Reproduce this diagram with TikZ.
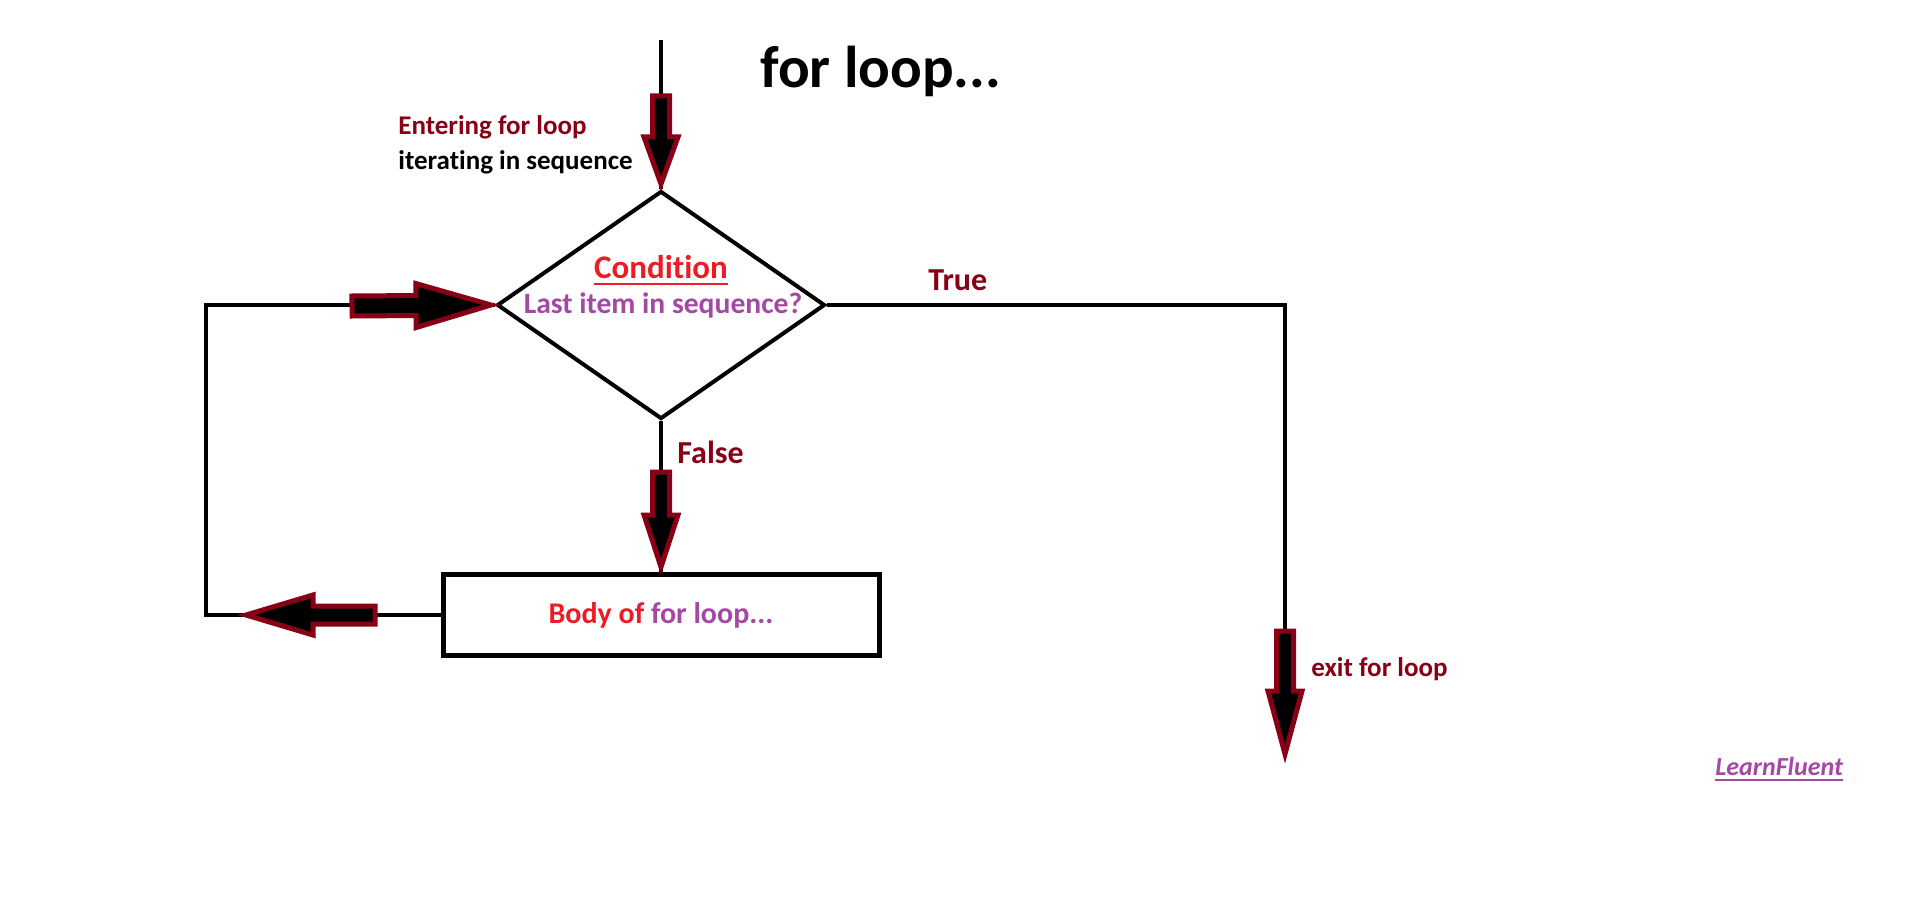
\documentclass[tikz,border=0pt]{standalone}
\usepackage{fontspec}
\setmainfont{Carlito}[Ligatures=NoCommon]
\usepackage{tikz}
\usetikzlibrary{shapes,arrows,positioning,calc}

\definecolor{darkred}{RGB}{136,0,21}
\definecolor{paintred}{RGB}{237,28,36}
\definecolor{paintpurple}{RGB}{163,73,164}

% fat arrow: tail, tip, head length, shaft half width, head half width
\newcommand{\blockarrow}[5]{%
  \coordinate (ba-tail) at (#1);
  \coordinate (ba-tip) at (#2);
  \coordinate (ba-base) at ($(ba-tip)!#3!(ba-tail)$);
  \draw[fatarrow] ($(ba-tail)!#4!90:(ba-tip)$) -- ($(ba-base)!#4!90:(ba-tip)$)
    -- ($(ba-base)!#5!90:(ba-tip)$) -- (ba-tip)
    -- ($(ba-base)!#5!-90:(ba-tip)$) -- ($(ba-base)!#4!-90:(ba-tip)$)
    -- ($(ba-tail)!#4!-90:(ba-tip)$) -- cycle;
}

\tikzset{
  flowline/.style={line width=2.2pt, black},
  fatarrow/.style={draw=darkred, fill=black, line width=2.5pt},
  txt/.style={inner sep=0pt, anchor=base west, font=\bfseries\fontsize{13.5}{16}\selectfont},
  bigtxt/.style={inner sep=0pt, anchor=base, font=\bfseries\fontsize{16}{19}\selectfont},
  uline/.style={line width=1pt},
}

\begin{document}
\begin{tikzpicture}[x=0.5pt, y=-0.5pt]
    \useasboundingbox (0,0) rectangle (1914,903);

    % Blocks
    \node[draw, diamond, line width=2pt, minimum width=164pt, minimum height=114pt, inner sep=0pt] (cond) at (661,305) {};
    \node[draw, line width=2.5pt, minimum width=218pt, minimum height=40.5pt,
          font=\bfseries\fontsize{15}{18}\selectfont] (body) at (661,615)
          {\color{paintred}Body of \color{paintpurple}for loop...};

    % Texts
    \node[txt, font=\bfseries\fontsize{29.5}{34}\selectfont] (title) at (760,88) {for loop...};
    \node[txt, text=darkred] (enter) at (398,135) {Entering for loop};
    \node[txt] (iter) at (398,170) {iterating in sequence};
    \node[bigtxt, text=paintred, font=\bfseries\fontsize{16.5}{19}\selectfont] (condtitle) at (661,279) {Condition};
    \node[bigtxt, text=paintpurple, font=\bfseries\fontsize{14.8}{18}\selectfont] (condq) at (663,314) {Last item in sequence?};
    \node[txt, text=darkred, font=\bfseries\fontsize{16}{19}\selectfont] (truelbl) at (928,291) {True};
    \node[txt, text=darkred, font=\bfseries\fontsize{16}{19}\selectfont] (falselbl) at (677,463) {False};
    \node[txt, text=darkred] (exitlbl) at (1311,676) {exit for loop};
    \node[txt, text=paintpurple, font=\bfseries\itshape\fontsize{13}{16}\selectfont] (brand) at (1715,775) {LearnFluent};
    % underlines
    \draw[uline, paintred] ([yshift=-2.5pt]condtitle.base west) -- ([yshift=-2.5pt]condtitle.base east);
    \draw[uline, paintpurple] ([yshift=-2.5pt]brand.base west) -- ([yshift=-2.5pt]brand.base east);

    % Free ends
    \coordinate (start) at (661,40);
    \coordinate (loopx) at (206,0);
    \coordinate (exit) at (1285,754);

    % Connectors
    \draw[flowline] (start) -- (cond.north);
    \draw[flowline] (cond.south) -- (body.north);
    \draw[flowline] (body.west) -- (body.west -| loopx) |- (cond.west);
    \draw[flowline] (cond.east) -| (exit);

    % Fat arrows on top
    \blockarrow{661,96}{$(cond.north)+(0,-5)$}{23.5pt}{4.25pt}{8.5pt}
    \blockarrow{661,472}{$(body.north)+(0,-5)$}{26pt}{4.25pt}{8.5pt}
    \blockarrow{1285,631}{exit}{31.5pt}{4.25pt}{8.5pt}
    \blockarrow{352,306}{$(cond.west)+(-4,0)$}{37.5pt}{5pt}{11pt}
    \blockarrow{375,615}{246,615}{33.5pt}{4.5pt}{10pt}
\end{tikzpicture}
\end{document}
